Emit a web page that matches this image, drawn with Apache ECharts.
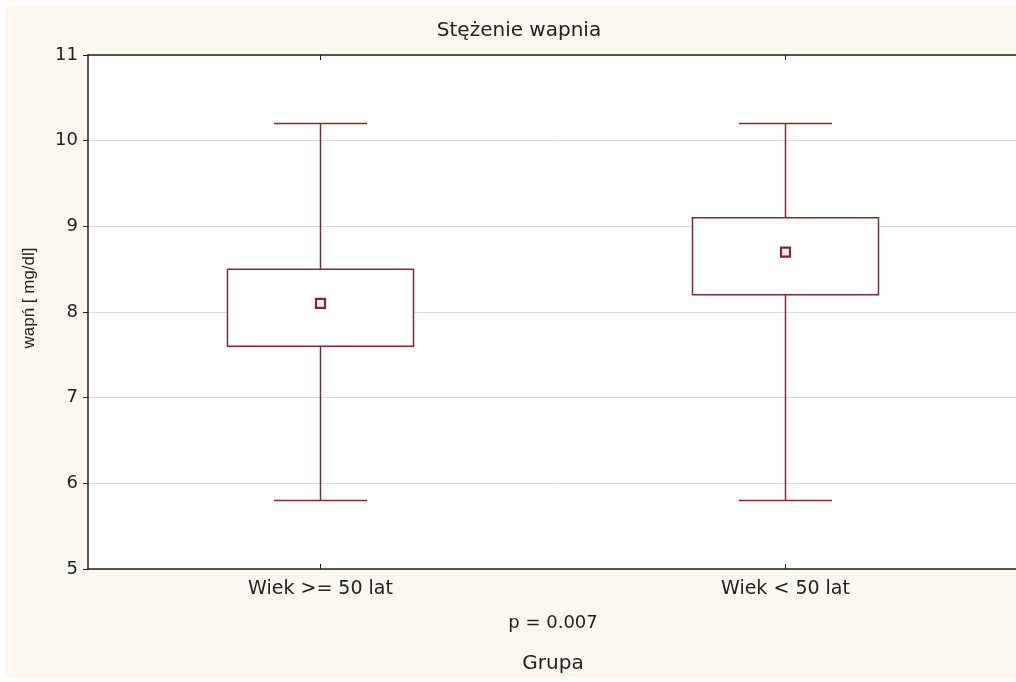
<!DOCTYPE html>
<html>
<head>
<meta charset="utf-8">
<script src="https://cdn.jsdelivr.net/npm/echarts@6/dist/echarts.min.js"></script>
<style>
  html, body { margin: 0; padding: 0; background: #ffffff; overflow: hidden; }
  #bg { position: absolute; left: 6px; top: 6px; width: 1010px; height: 671px; background: #fcf8ef; }
  #chart { position: absolute; left: 0; top: 0; width: 1016px; height: 682px; }
</style>
</head>
<body>
<div id="bg"></div>
<div id="chart"></div>
<script>
const categories = ['Wiek >= 50 lat', 'Wiek < 50 lat'];
const minVals = [5.8, 5.8];
const q1Vals = [7.6, 8.2];
const q3Vals = [8.5, 9.1];
const maxVals = [10.2, 10.2];
const meanVals = [8.1, 8.7];
const yTicks = [5, 6, 7, 8, 9, 10, 11];

const boxColor = '#7a2c2c';
const font = '"DejaVu Sans", Verdana, sans-serif';
const fontNarrow = '"Liberation Sans", Arial, sans-serif';

const boxData = categories.map((c, i) => [i, minVals[i], q1Vals[i], q3Vals[i], maxVals[i]]);
const meanData = categories.map((c, i) => [i, meanVals[i]]);

const chart = echarts.init(document.getElementById('chart'), null, { renderer: 'canvas' });

function renderBox(params, api) {
  const x = api.value(0);
  const pMin = api.coord([x, api.value(1)]);
  const pQ1 = api.coord([x, api.value(2)]);
  const pQ3 = api.coord([x, api.value(3)]);
  const pMax = api.coord([x, api.value(4)]);
  const band = api.size([1, 0])[0];
  const boxW = band * 0.4;
  const capW = band * 0.2;
  const cx = pMin[0];
  const style = { stroke: boxColor, lineWidth: 1.5, fill: null };
  return {
    type: 'group',
    children: [
      { type: 'line', shape: { x1: cx, y1: pMax[1], x2: cx, y2: pQ3[1] }, style: style },
      { type: 'line', shape: { x1: cx, y1: pQ1[1], x2: cx, y2: pMin[1] }, style: style },
      { type: 'line', shape: { x1: cx - capW / 2, y1: pMax[1], x2: cx + capW / 2, y2: pMax[1] }, style: style },
      { type: 'line', shape: { x1: cx - capW / 2, y1: pMin[1], x2: cx + capW / 2, y2: pMin[1] }, style: style },
      { type: 'rect', shape: { x: cx - boxW / 2, y: pQ3[1], width: boxW, height: pQ1[1] - pQ3[1] }, style: { stroke: boxColor, lineWidth: 1.5, fill: '#ffffff' } }
    ]
  };
}

const option = {
  backgroundColor: 'transparent',
  animation: false,
  title: [
    { text: 'Stężenie wapnia', left: 519, top: 21, padding: 0, textAlign: 'center',
      textStyle: { fontFamily: font, fontSize: 20, fontWeight: 'normal', color: '#222' } },
    { text: 'p = 0.007', left: 553, top: 614, padding: 0, textAlign: 'center',
      textStyle: { fontFamily: font, fontSize: 18, fontWeight: 'normal', color: '#222' } }
  ],
  grid: { left: 88, top: 55, width: 930, height: 514, show: true, backgroundColor: '#ffffff', borderWidth: 0,
          containLabel: false, outerBoundsMode: 'none' },
  xAxis: [
    {
      type: 'category', data: categories, position: 'bottom',
      name: 'Grupa', nameLocation: 'middle', nameGap: 85,
      nameTextStyle: { fontFamily: font, fontSize: 20, color: '#222' },
      axisLine: { show: true, lineStyle: { color: '#222', width: 1.5 } },
      axisTick: { show: true, inside: true, alignWithLabel: true, length: 5, lineStyle: { color: '#222' } },
      axisLabel: { fontFamily: font, fontSize: 19, color: '#222', margin: 11 },
      splitLine: { show: false }
    },
    {
      type: 'category', data: categories, position: 'top',
      axisLine: { show: true, lineStyle: { color: '#222', width: 1.5 } },
      axisTick: { show: true, inside: true, alignWithLabel: true, length: 5, lineStyle: { color: '#222' } },
      axisLabel: { show: false },
      splitLine: { show: false }
    }
  ],
  yAxis: {
    type: 'value', min: yTicks[0], max: yTicks[yTicks.length - 1], interval: 1,
    name: 'wapń [ mg/dl]', nameLocation: 'middle', nameGap: 50, nameRotate: 90,
    nameTextStyle: { fontFamily: fontNarrow, fontSize: 17, color: '#222', padding: [0, 0, 0, 28] },
    axisLine: { show: true, lineStyle: { color: '#222', width: 1.5 } },
    axisTick: { show: true, inside: false, length: 5, lineStyle: { color: '#222' } },
    axisLabel: { fontFamily: font, fontSize: 18, color: '#222', margin: 10 },
    splitLine: { show: true, lineStyle: { color: '#dcdcdc', width: 1 } }
  },
  series: [
    {
      type: 'custom', xAxisIndex: 0, renderItem: renderBox, data: boxData,
      encode: { x: 0, y: [1, 2, 3, 4] }, z: 2
    },
    {
      type: 'scatter', xAxisIndex: 0, data: meanData, symbol: 'rect', symbolSize: 9,
      itemStyle: { color: '#fdf0f0', borderColor: boxColor, borderWidth: 2.2, opacity: 1 }, z: 3
    }
  ]
};
chart.setOption(option);
</script>
</body>
</html>
